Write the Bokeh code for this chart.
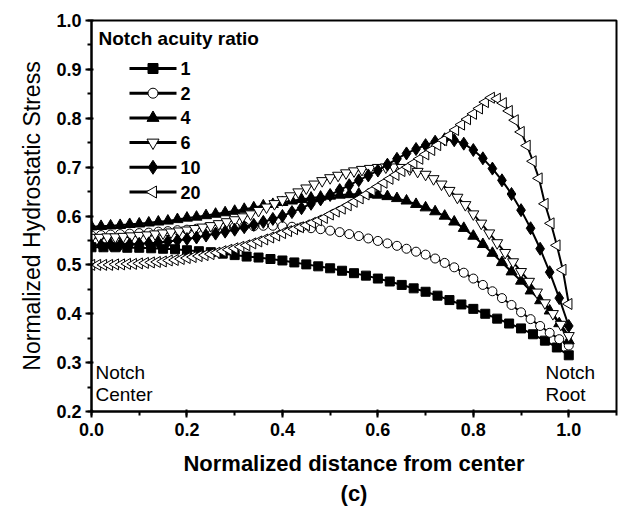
import numpy as np
from bokeh.plotting import figure
from bokeh.models import Range1d, SingleIntervalTicker, Title, NumeralTickFormatter
from bokeh.core.properties import value
from bokeh.embed import file_html
from bokeh.resources import INLINE

FONT = "Liberation Sans"

ratio_labels = ["1", "2", "4", "6", "10", "20"]

# sampling positions along normalized distance from center
x_r1 = np.linspace(0.0, 1.0, 41)
x_r2 = np.linspace(0.0, 1.0, 51)
x_r4 = np.linspace(0.0, 1.0, 51)
x_r6 = np.linspace(0.0, 1.0, 61)
x_r10 = np.linspace(0.0, 1.0, 51)
x_r20 = np.linspace(0.0, 1.0, 81)

y_r1 = [0.536, 0.536, 0.536, 0.535, 0.535, 0.534, 0.533, 0.532, 0.530, 0.528,
        0.526, 0.523, 0.520, 0.517, 0.515, 0.512, 0.509, 0.505, 0.501, 0.497,
        0.493, 0.488, 0.483, 0.478, 0.472, 0.466, 0.459, 0.452, 0.445, 0.437,
        0.428, 0.419, 0.410, 0.400, 0.390, 0.380, 0.370, 0.358, 0.345, 0.331,
        0.315]

y_r2 = [0.560, 0.561, 0.562, 0.563, 0.564, 0.565, 0.566, 0.568, 0.569, 0.571,
        0.572, 0.574, 0.575, 0.576, 0.577, 0.578, 0.579, 0.579, 0.580, 0.580,
        0.579, 0.578, 0.577, 0.575, 0.573, 0.570, 0.567, 0.563, 0.559, 0.554,
        0.549, 0.544, 0.539, 0.533, 0.527, 0.521, 0.513, 0.504, 0.495, 0.484,
        0.472, 0.459, 0.446, 0.432, 0.418, 0.403, 0.389, 0.375, 0.361, 0.348,
        0.335]

y_r4 = [0.578, 0.579, 0.580, 0.581, 0.583, 0.584, 0.586, 0.588, 0.590, 0.593,
        0.596, 0.598, 0.601, 0.604, 0.607, 0.610, 0.614, 0.617, 0.621, 0.624,
        0.628, 0.631, 0.634, 0.637, 0.639, 0.641, 0.643, 0.644, 0.645, 0.644,
        0.643, 0.640, 0.636, 0.631, 0.624, 0.617, 0.609, 0.600, 0.588, 0.575,
        0.559, 0.542, 0.524, 0.505, 0.486, 0.467, 0.447, 0.427, 0.406, 0.380,
        0.345]

y_r6 = [0.556, 0.556, 0.557, 0.557, 0.558, 0.559, 0.560, 0.561, 0.563, 0.565,
        0.567, 0.569, 0.571, 0.574, 0.577, 0.580, 0.584, 0.588, 0.592, 0.598,
        0.604, 0.611, 0.618, 0.625, 0.633, 0.641, 0.649, 0.657, 0.665, 0.672,
        0.678, 0.683, 0.688, 0.692, 0.695, 0.697, 0.699, 0.700, 0.700, 0.699,
        0.696, 0.691, 0.685, 0.676, 0.665, 0.652, 0.638, 0.623, 0.604, 0.585,
        0.565, 0.545, 0.525, 0.506, 0.486, 0.466, 0.444, 0.422, 0.400, 0.378,
        0.355]

y_r10 = [0.540, 0.540, 0.541, 0.541, 0.542, 0.543, 0.544, 0.546, 0.548, 0.550,
         0.553, 0.556, 0.560, 0.564, 0.568, 0.572, 0.577, 0.582, 0.588, 0.594,
         0.600, 0.608, 0.616, 0.625, 0.634, 0.643, 0.653, 0.663, 0.673, 0.683,
         0.693, 0.705, 0.717, 0.728, 0.737, 0.745, 0.752, 0.757, 0.755, 0.748,
         0.735, 0.718, 0.697, 0.673, 0.645, 0.612, 0.575, 0.533, 0.485, 0.432,
         0.375]

y_r20 = [0.500, 0.500, 0.500, 0.500, 0.501, 0.501, 0.502, 0.502, 0.503, 0.504,
         0.505, 0.506, 0.507, 0.509, 0.510, 0.512, 0.514, 0.516, 0.518, 0.520,
         0.522, 0.525, 0.528, 0.531, 0.534, 0.537, 0.540, 0.544, 0.548, 0.552,
         0.556, 0.560, 0.565, 0.569, 0.573, 0.577, 0.581, 0.586, 0.591, 0.596,
         0.603, 0.609, 0.615, 0.622, 0.629, 0.636, 0.644, 0.652, 0.660, 0.668,
         0.676, 0.684, 0.692, 0.700, 0.708, 0.717, 0.726, 0.735, 0.745, 0.755,
         0.765, 0.776, 0.787, 0.798, 0.809, 0.820, 0.833, 0.842, 0.840, 0.831,
         0.815, 0.796, 0.772, 0.744, 0.712, 0.677, 0.625, 0.585, 0.540, 0.490,
         0.420]

xs = [x_r1, x_r2, x_r4, x_r6, x_r10, x_r20]
ys = [y_r1, y_r2, y_r4, y_r6, y_r10, y_r20]

styles = [
    dict(marker="square", fill="black", size=9, angle=0.0),
    dict(marker="circle", fill="white", size=9, angle=0.0),
    dict(marker="triangle", fill="black", size=11, angle=0.0),
    dict(marker="inverted_triangle", fill="white", size=11, angle=0.0),
    dict(marker="diamond", fill="black", size=13, angle=0.0),
    dict(marker="triangle", fill="white", size=11, angle=np.pi / 2),
]

X0, X1, Y0, Y1 = 0.0, 1.1, 0.2, 1.0
p = figure(width=621, height=508, output_backend="svg", toolbar_location=None,
           x_range=Range1d(X0, X1), y_range=Range1d(Y0, Y1),
           min_border_left=91, min_border_right=5, min_border_top=20,
           min_border_bottom=97)
p.background_fill_color = "white"
p.border_fill_color = "white"
p.grid.visible = False
p.outline_line_color = "black"
p.outline_line_width = 2
p.outline_line_alpha = 1.0

p.xaxis.ticker = SingleIntervalTicker(interval=0.2, num_minor_ticks=2)
p.yaxis.ticker = SingleIntervalTicker(interval=0.1, num_minor_ticks=2)
for ax in (p.xaxis[0], p.yaxis[0]):
    ax.formatter = NumeralTickFormatter(format="0.0")
    ax.axis_line_width = 2
    ax.major_tick_line_width = 2
    ax.minor_tick_line_width = 2
    ax.major_tick_in = 2
    ax.major_tick_out = 6
    ax.minor_tick_in = 0
    ax.minor_tick_out = 4
    ax.major_label_text_font = FONT
    ax.major_label_text_font_style = "bold"
    ax.major_label_text_font_size = "18px"
    ax.major_label_text_color = "black"
    ax.axis_label_text_font = FONT
    ax.axis_label_text_color = "black"
p.xaxis.major_label_standoff = 5
p.yaxis.major_label_standoff = 4
p.xaxis.axis_label = "Normalized distance from center"
p.xaxis.axis_label_text_font_style = "bold"
p.xaxis.axis_label_text_font_size = "22px"
p.xaxis.axis_label_standoff = 12
p.yaxis.axis_label = "Normalized Hydrostatic Stress"
p.yaxis.axis_label_text_font_style = "normal"
p.yaxis.axis_label_text_font_size = "23px"
p.yaxis.axis_label_standoff = 8

for x, y, st in zip(xs, ys, styles):
    p.line(x, y, line_color="black", line_width=2)
    p.scatter(x, y, marker=st["marker"], size=st["size"],
              fill_color=st["fill"], line_color="black", line_width=1,
              angle=st["angle"])

# ---- legend (drawn by hand so the left-pointing triangle keeps its angle)
FW, FH = 525.0, 391.0                      # plot-frame size in pixels
sx = (X1 - X0) / FW                         # data units per pixel
sy = (Y1 - Y0) / FH
leg_left, leg_glyph_w, leg_gap = 38.0, 47.0, 4.0
leg_first, leg_step = 48.0, 24.7            # pixels below the frame top
for i, (lab, st) in enumerate(zip(ratio_labels, styles)):
    yy = Y1 - (leg_first + i * leg_step) * sy
    xa = X0 + leg_left * sx
    xb = X0 + (leg_left + leg_glyph_w) * sx
    p.line([xa, xb], [yy, yy], line_color="black", line_width=3)
    p.scatter([(xa + xb) / 2], [yy], marker=st["marker"], size=st["size"] + 1,
              fill_color=st["fill"], line_color="black", line_width=1,
              angle=st["angle"])
    p.text(x=[xb + leg_gap * sx], y=[yy], text=[lab], text_font=value(FONT),
           text_font_style="bold", text_font_size="18px",
           text_baseline="middle", text_align="left", text_color="black")

p.text(x=[X0 + 7 * sx], y=[Y1 - 18 * sy], text=["Notch acuity ratio"],
       text_font=value(FONT), text_font_style="bold", text_font_size="19px",
       text_baseline="middle", text_align="left", text_color="black")
p.text(x=[X0 + 4 * sx] * 2, y=[Y0 + 39 * sy, Y0 + 17 * sy],
       text=["Notch", "Center"],
       text_font=value(FONT), text_font_size="19px",
       text_baseline="middle", text_align="left", text_color="black")
p.text(x=[X0 + 454 * sx] * 2, y=[Y0 + 39 * sy, Y0 + 17 * sy],
       text=["Notch", "Root"],
       text_font=value(FONT), text_font_size="19px",
       text_baseline="middle", text_align="left", text_color="black")

p.add_layout(Title(text="(c)", align="center", text_font=FONT,
                   text_font_style="bold", text_font_size="22px",
                   text_color="black", standoff=0), "below")

open("out.html", "w").write(file_html(p, INLINE))
